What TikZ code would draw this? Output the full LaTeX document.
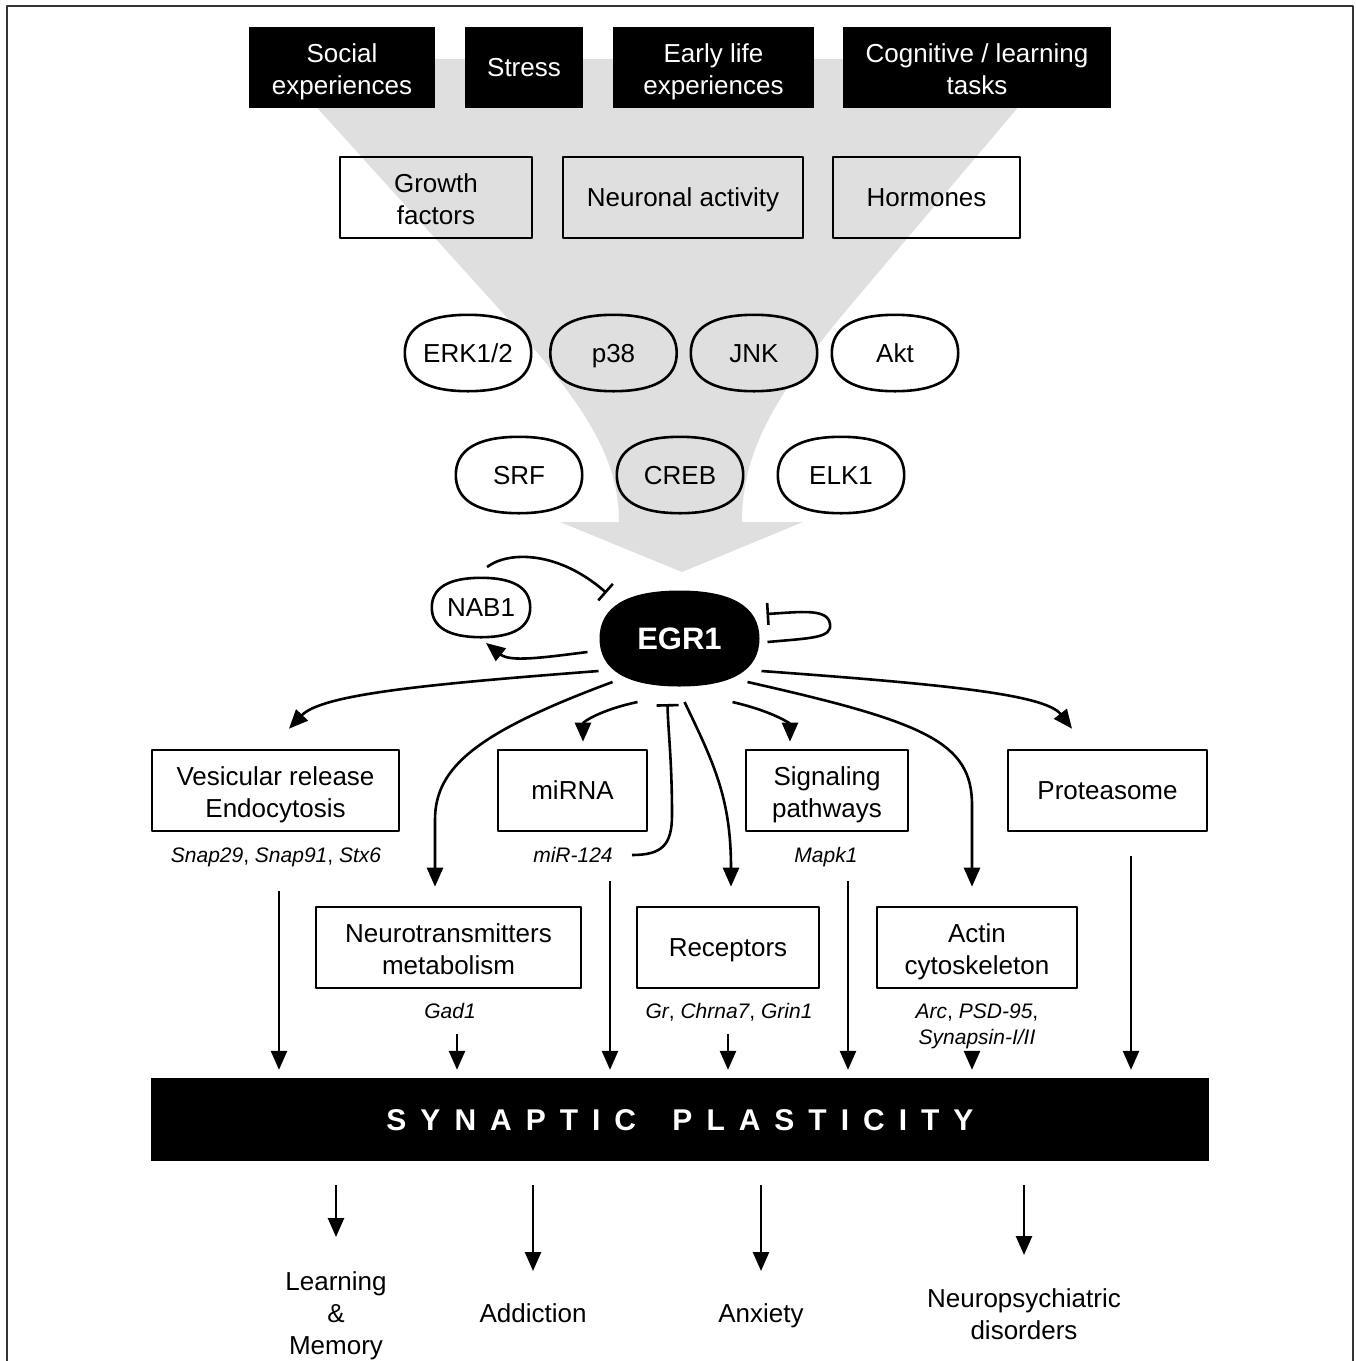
\documentclass[tikz,border=0pt]{standalone}
\usepackage{fontspec}
\setmainfont{Liberation Sans}
\usetikzlibrary{arrows.meta,calc}
\newcommand\fA{\fontsize{26}{32}\selectfont}
\newcommand\fG{\fontsize{21}{26}\selectfont}
\newcommand\fE{\fontsize{31}{36}\selectfont\bfseries}
\newcommand\fT{\fontsize{30}{36}\selectfont\bfseries}
\newcommand\lk{\kern14pt}
\definecolor{funnel}{HTML}{DFDFDF}
\pgfdeclarelayer{bg}
\pgfdeclarelayer{mid}
\pgfsetlayers{bg,mid,main}
\newcommand\squircle[2]{%
 \begin{pgfonlayer}{mid}
 \filldraw[line width=2.6pt,#2] (#1.north)
  .. controls ($(#1.north)!0.66!(#1.north east)$) and ($(#1.east)!0.66!(#1.north east)$) .. (#1.east)
  .. controls ($(#1.east)!0.66!(#1.south east)$) and ($(#1.south)!0.66!(#1.south east)$) .. (#1.south)
  .. controls ($(#1.south)!0.66!(#1.south west)$) and ($(#1.west)!0.66!(#1.south west)$) .. (#1.west)
  .. controls ($(#1.west)!0.66!(#1.north west)$) and ($(#1.north)!0.66!(#1.north west)$) .. (#1.north) -- cycle;
 \end{pgfonlayer}}
\begin{document}
\begin{tikzpicture}[x=1pt,y=-1pt,line join=round]
\tikzset{
 one/.style={text height=18.6pt, text depth=0pt},
 two/.style={text height=54pt, text depth=0pt},
 three/.style={text height=82.6pt, text depth=0pt},
 blk/.style={fill=black, text=white, font=\fA, align=center, minimum height=81pt, inner sep=0pt},
 wbx/.style={draw, line width=2.6pt, font=\fA, align=center, minimum height=81pt, inner sep=0pt},
 pill/.style={minimum width=126pt, minimum height=76pt, font=\fA, inner sep=0pt, one},
 gene/.style={font=\fG, inner sep=0pt, align=center, text height=15pt, text depth=0pt},
 lbl/.style={font=\fA, align=center, inner sep=0pt},
 arr/.style={line width=2.6pt, -{Triangle[length=19pt,width=16pt]}},
 inh/.style={line width=2.6pt, -{Bar[width=22pt,line width=2.6pt]}},
}
\useasboundingbox (0,0) rectangle (1356,1361);
\draw[line width=2pt, black!80] (7,1361) -- (7,6) -- (1353,6) -- (1353,1361);

% funnel
\begin{pgfonlayer}{bg}
\fill[funnel] (273,59) -- (1059,59) -- (855,300) .. controls (776,393) and (742,450) .. (742,522)
  -- (803,522) -- (682,572) -- (560,522) -- (619,522) .. controls (619,450) and (575,393) .. (491,300) -- cycle;
\end{pgfonlayer}

% top black boxes
\node[blk, two, minimum width=186pt] (soc) at (342,67.5) {Social\\experiences};
\node[blk, one, minimum width=118pt] (str) at (524,67.5) {Stress};
\node[blk, two, minimum width=201pt] (ear) at (713.5,67.5) {Early life\\experiences};
\node[blk, two, minimum width=268pt] (cog) at (977,67.5) {Cognitive / learning\\tasks};

% second row
\node[wbx, two, minimum width=192pt] (gro) at (436,197.5) {Growth\\factors};
\node[wbx, one, minimum width=240pt] (neu) at (683,197.5) {Neuronal activity};
\node[wbx, one, minimum width=187pt] (hor) at (926.5,197.5) {Hormones};

% kinases
\node[pill] (erk) at (468,353) {ERK1/2};
\node[pill] (p38) at (613.5,353) {p38};
\node[pill] (jnk) at (754,353) {JNK};
\node[pill] (akt) at (895,353) {Akt};
\squircle{erk}{fill=white}
\squircle{p38}{fill=funnel}
\squircle{jnk}{fill=funnel}
\squircle{akt}{fill=white}

% transcription factors
\node[pill] (srf) at (519,475) {SRF};
\node[pill] (creb) at (680,475) {CREB};
\node[pill] (elk) at (841,475) {ELK1};
\squircle{srf}{fill=white}
\squircle{creb}{fill=funnel}
\squircle{elk}{fill=white}

% EGR1 and NAB1
\node[minimum width=157pt, minimum height=93pt, inner sep=0pt, text=white, font=\fE, text height=22.2pt, text depth=0pt] (egr) at (679.5,638.5) {EGR1};
\squircle{egr}{fill=black}
\node[pill, minimum width=98pt, minimum height=59pt] (nab) at (481,607.5) {NAB1};
\squircle{nab}{fill=white}

% third row
\node[wbx, two, minimum width=247pt] (ves) at (275.5,790.5) {Vesicular release\\Endocytosis};
\node[wbx, one, minimum width=149pt] (mir) at (572.5,790.5) {miRNA};
\node[wbx, two, minimum width=162pt] (sig) at (827,790.5) {Signaling\\pathways};
\node[wbx, one, minimum width=199pt] (pro) at (1107.5,790.5) {Proteasome};

\node[gene] (gves) at (276,855) {\textit{Snap29}, \textit{Snap91}, \textit{Stx6}};
\node[gene] (gmir) at (573,855) {\textit{miR-124}};
\node[gene] (gsig) at (826,855) {\textit{Mapk1}};

% fourth row
\node[wbx, two, minimum width=265pt] (nt) at (448.5,947.5) {Neurotransmitters\\metabolism};
\node[wbx, one, minimum width=182pt] (rec) at (728,947.5) {Receptors};
\node[wbx, two, minimum width=200pt] (act) at (977,947.5) {Actin\\cytoskeleton};

\node[gene] (gnt) at (450,1011) {\textit{Gad1}};
\node[gene] (grec) at (729,1011) {\textit{Gr}, \textit{Chrna7}, \textit{Grin1}};
\node[gene, text height=41pt] (gact) at (977,1024) {\textit{Arc}, \textit{PSD-95},\\\textit{Synapsin-I/II}};

% synaptic plasticity bar
\node[fill=black, minimum width=1058pt, minimum height=83pt, inner sep=0pt, text=white, font=\fT, text height=21.5pt, text depth=0pt] (bar) at (680,1119.5)
 {S\lk Y\lk N\lk A\lk P\lk T\lk I\lk C\lk\ \lk P\lk L\lk A\lk S\lk T\lk I\lk C\lk I\lk T\lk Y};

% outcomes
\node[lbl, three] (lm) at (336,1313) {Learning\\\&\\Memory};
\node[lbl, one] (add) at (533,1313) {Addiction};
\node[lbl, one] (anx) at (761,1313) {Anxiety};
\node[lbl, two] (nps) at (1024,1312) {Neuropsychiatric\\disorders};

% regulation around EGR1
\draw[inh] ($(nab.center)+(6,-40.5)$) .. controls (510,550) and (560,552) .. ($(egr.center)+(-73,-45.5)$);
\draw[arr] ($(egr.center)+(-92,13.5)$) .. controls (540,658) and (510,662) .. ($(nab.center)+(5,35.5)$);
\draw[inh] ($(egr.center)+(88,3.5)$) .. controls (812,638) and (832,638) .. (830,624) .. controls (828,608) and (800,612) .. ($(egr.center)+(87,-24.5)$);

% EGR1 targets
\draw[arr] ($(egr.center)+(-81,32.5)$) .. controls (430,684) and (322,694) .. ($(ves.north)+(13.5,-20)$);
\draw[arr] ($(egr.center)+(-67,43.5)$) .. controls (475,733) and (435,768) .. (435,820) -- ($(nt.north)+(-13.5,-19)$);
\draw[arr] ($(egr.center)+(-42,63.5)$) .. controls (600,710) and (583,722) .. ($(mir.north)+(10.5,-7)$);
\draw[inh] ($(gmir.center)+(59,0)$) .. controls (662,855) and (672,845) .. (672,815) .. controls (672,760) and (668,730) .. ($(egr.center)+(-12,65.5)$);
\draw[arr] ($(egr.center)+(5,63.5)$) .. controls (715,765) and (731,800) .. ($(rec.north)+(3,-19)$);
\draw[arr] ($(egr.center)+(53,63.5)$) .. controls (775,712) and (790,724) .. ($(sig.north)+(-37,-7)$);
\draw[arr] ($(egr.center)+(68,43.5)$) .. controls (925,722) and (972,742) .. (972,805) -- ($(act.north)+(-5,-19)$);
\draw[arr] ($(egr.center)+(82,32.5)$) .. controls (940,684) and (1045,694) .. ($(pro.north)+(-35.5,-20)$);

% into synaptic plasticity
\draw[arr] ($(ves.south)+(3.5,59)$) coordinate (s1) -- ($(s1 |- bar.north)+(0,-8)$);
\draw[arr] ($(nt.south)+(8.5,45)$) coordinate (s2) -- ($(s2 |- bar.north)+(0,-8)$);
\draw[arr] ($(mir.south)+(37.5,49)$) coordinate (s3) -- ($(s3 |- bar.north)+(0,-8)$);
\draw[arr] ($(rec.south)+(0,45)$) coordinate (s4) -- ($(s4 |- bar.north)+(0,-8)$);
\draw[arr] ($(sig.south)+(21,49)$) coordinate (s5) -- ($(s5 |- bar.north)+(0,-8)$);
\draw[arr] ($(act.south)+(-5,62)$) coordinate (s6) -- ($(s6 |- bar.north)+(0,-8)$);
\draw[arr] ($(pro.south)+(23.5,24)$) coordinate (s7) -- ($(s7 |- bar.north)+(0,-8)$);

% outcomes arrows
\draw[arr] ($(bar.south -| lm.center)+(0,24)$) -- ($(lm.center)+(0,-76)$);
\draw[arr] ($(bar.south -| add.center)+(0,24)$) -- ($(add.center)+(0,-42)$);
\draw[arr] ($(bar.south -| anx.center)+(0,24)$) -- ($(anx.center)+(0,-42)$);
\draw[arr] ($(bar.south -| nps.center)+(0,24)$) -- ($(nps.center)+(0,-57)$);
\end{tikzpicture}
\end{document}
